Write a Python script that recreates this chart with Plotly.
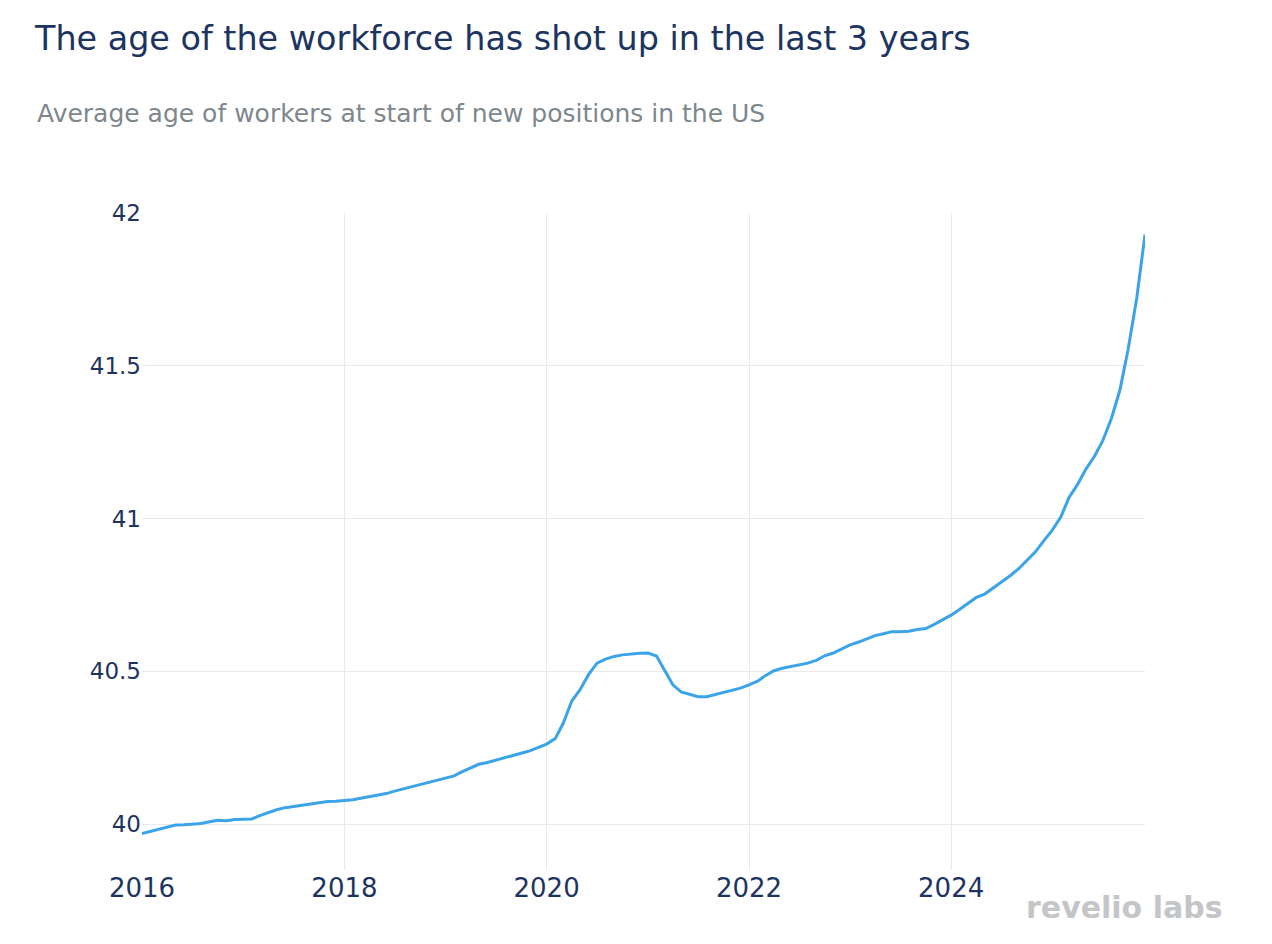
import plotly.graph_objects as go
import pandas as pd

dates = pd.date_range("2016-01-01", "2025-12-01", freq="MS").strftime("%Y-%m-%d").tolist()

avg_age_2016 = [39.969, 39.976, 39.983, 39.990, 39.997, 39.998, 39.999, 40.002, 40.008, 40.013, 40.011, 40.015]
avg_age_2017 = [40.016, 40.017, 40.028, 40.038, 40.047, 40.054, 40.058, 40.063, 40.067, 40.071, 40.074, 40.075]
avg_age_2018 = [40.077, 40.080, 40.085, 40.090, 40.094, 40.100, 40.108, 40.115, 40.122, 40.130, 40.137, 40.144]
avg_age_2019 = [40.150, 40.158, 40.171, 40.184, 40.196, 40.202, 40.209, 40.216, 40.224, 40.232, 40.240, 40.250]
avg_age_2020 = [40.262, 40.280, 40.330, 40.403, 40.440, 40.490, 40.527, 40.540, 40.549, 40.554, 40.557, 40.559]
avg_age_2021 = [40.560, 40.550, 40.505, 40.456, 40.433, 40.424, 40.417, 40.417, 40.424, 40.431, 40.438, 40.445]
avg_age_2022 = [40.456, 40.468, 40.486, 40.502, 40.510, 40.515, 40.521, 40.527, 40.536, 40.551, 40.560, 40.574]
avg_age_2023 = [40.587, 40.596, 40.607, 40.617, 40.623, 40.630, 40.630, 40.631, 40.637, 40.640, 40.654, 40.668]
avg_age_2024 = [40.684, 40.703, 40.722, 40.742, 40.753, 40.773, 40.790, 40.813, 40.836, 40.864, 40.892, 40.928]
avg_age_2025 = [40.963, 41.007, 41.068, 41.111, 41.161, 41.203, 41.254, 41.326, 41.419, 41.553, 41.720, 41.930]

avg_age = (avg_age_2016 + avg_age_2017 + avg_age_2018 + avg_age_2019 + avg_age_2020
           + avg_age_2021 + avg_age_2022 + avg_age_2023 + avg_age_2024 + avg_age_2025)

y_ticks = [40, 40.5, 41, 41.5, 42]
y_tick_labels = ["40", "40.5", "41", "41.5", "42"]
x_ticks = ["2016-01-01", "2018-01-01", "2020-01-01", "2022-01-01", "2024-01-01"]
x_tick_labels = ["2016", "2018", "2020", "2022", "2024"]

title_text = "The age of the workforce has shot up in the last 3 years"
subtitle_text = "Average age of workers at start of new positions in the US"
logo_text = "revelio labs"

navy = "#1d3461"
W, H = 1272, 944
OFF = 8  # page body margin
L, R, T, B = 142 - OFF, 1272 - (1145 - OFF), 213 - OFF, 944 - (870 - OFF)
pw, ph = W - L - R, H - T - B
bottom = H - B

fig = go.Figure()
fig.add_trace(go.Scatter(
    x=dates, y=avg_age, mode="lines",
    line=dict(color="#3ba4e8", width=3),
    showlegend=False,
))

fig.update_layout(
    width=W, height=H,
    margin=dict(l=L, r=R, t=T, b=B),
    plot_bgcolor="white", paper_bgcolor="white",
    font=dict(family="DejaVu Sans, Verdana, sans-serif", color=navy),
    title=dict(
        text=title_text, xref="container", yref="container",
        x=(35 - OFF) / W, xanchor="left", y=1 - (38 - OFF) / H, yanchor="middle",
        font=dict(family="DejaVu Sans, sans-serif", size=33.4, color=navy),
    ),
    xaxis=dict(
        range=[dates[0], dates[-1]],
        tickvals=x_ticks, ticktext=x_tick_labels,
        showgrid=True, gridcolor="#e9e9ec", gridwidth=1,
        zeroline=False, showline=False, ticks="",
        tickfont=dict(size=26, color=navy),
    ),
    yaxis=dict(
        range=[39.85, 42.0],
        tickvals=y_ticks, ticktext=y_tick_labels,
        showgrid=True, gridcolor="#e9e9ec", gridwidth=1,
        zeroline=False, showline=False, ticks="",
        tickfont=dict(size=23, color=navy),
    ),
    annotations=[
        dict(
            text=subtitle_text, xref="paper", yref="paper",
            x=(35 - OFF - L) / pw, y=(bottom - (113 - OFF)) / ph, xanchor="left", yanchor="middle",
            showarrow=False,
            font=dict(family="DejaVu Sans, sans-serif", size=25, color="#7d878c"),
        ),
        dict(
            text="<b>" + logo_text + "</b>", xref="paper", yref="paper",
            x=(1225 - OFF - L) / pw, y=(bottom - (907 - OFF)) / ph, xanchor="right", yanchor="middle",
            showarrow=False,
            font=dict(family="DejaVu Sans, sans-serif", size=30, color="#c3c5c8"),
        ),
    ],
)

fig.write_html("out.html")
